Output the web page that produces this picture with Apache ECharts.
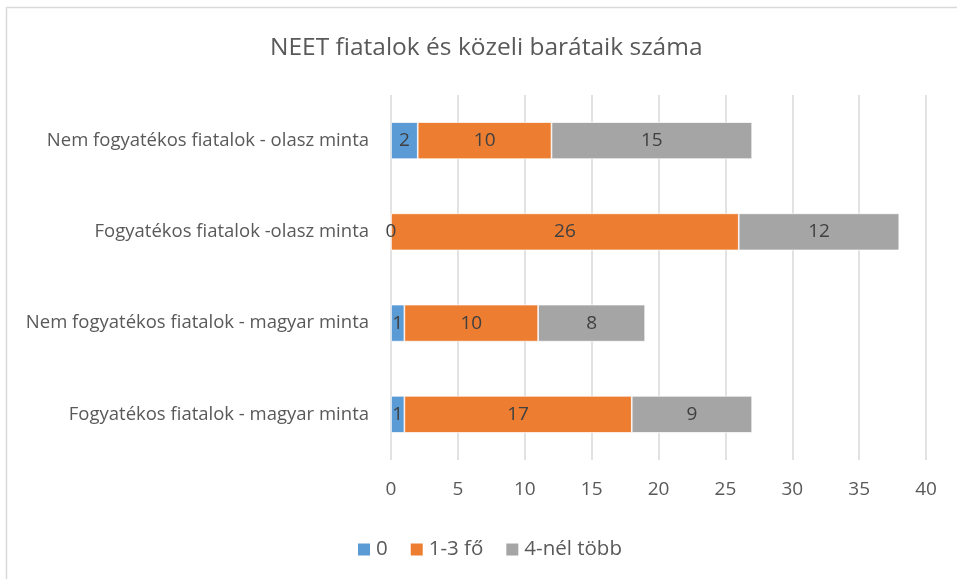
<!DOCTYPE html>
<html>
<head>
<meta charset="utf-8">
<script src="https://cdn.jsdelivr.net/npm/echarts@6/dist/echarts.min.js"></script>
<style>
  html, body { margin: 0; padding: 0; background: #fff; }
  #chart { width: 957px; height: 579px; }
</style>
</head>
<body>
<div id="chart"></div>
<script>
// kategóriák alulról felfelé
const categories = [
  'Fogyatékos fiatalok - magyar minta',
  'Nem fogyatékos fiatalok - magyar minta',
  'Fogyatékos fiatalok -olasz minta',
  'Nem fogyatékos fiatalok - olasz minta'
]
const zero = [1, 1, 0, 2]
const oneToThree = [17, 10, 26, 10]
const moreThanFour = [9, 8, 12, 15]

const font = '"Open Sans", sans-serif'
const chart = echarts.init(document.getElementById('chart'))

function barSeries(name, data, color) {
  return {
    name: name,
    type: 'bar',
    stack: 'total',
    data: data,
    barWidth: 37,
    itemStyle: { color: color, borderColor: '#fff', borderWidth: 0.7 },
    label: {
      show: true,
      position: 'inside',
      color: '#404040',
      fontSize: 19,
      fontFamily: font
    }
  }
}

const option = {
  backgroundColor: '#fff',
  animation: false,
  title: {
    text: 'NEET fiatalok és közeli barátaik száma',
    left: 265,
    top: 31,
    textStyle: { color: '#595959', fontSize: 24.5, fontWeight: 'normal', fontFamily: font }
  },
  legend: {
    top: 534,
    left: 351,
    itemWidth: 14,
    itemHeight: 14,
    itemGap: 21,
    icon: 'rect',
    textStyle: { color: '#595959', fontSize: 20.5, fontFamily: font },
    data: ['0', '1-3 fő', '4-nél több']
  },
  grid: { left: 391, right: 31, top: 95, bottom: 119 },
  xAxis: {
    type: 'value',
    min: 0,
    max: 40,
    interval: 5,
    axisLine: { show: false },
    axisTick: { show: false },
    splitLine: { lineStyle: { color: '#d9d9d9', width: 1.5 } },
    axisLabel: { color: '#595959', fontSize: 19, fontFamily: font, margin: 20 }
  },
  yAxis: {
    type: 'category',
    data: categories,
    axisLine: { show: false },
    axisTick: { show: false },
    axisLabel: { color: '#595959', fontSize: 18.5, fontFamily: font, margin: 22 }
  },
  series: [
    barSeries('0', zero, '#5B9BD5'),
    barSeries('1-3 fő', oneToThree, '#ED7D31'),
    barSeries('4-nél több', moreThanFour, '#A5A5A5')
  ],
  graphic: [{
    type: 'rect',
    shape: { x: 6.5, y: 7.5, width: 960, height: 600 },
    style: { fill: 'none', stroke: '#d9d9d9', lineWidth: 1.5 },
    silent: true
  }]
}
chart.setOption(option)
</script>
</body>
</html>
